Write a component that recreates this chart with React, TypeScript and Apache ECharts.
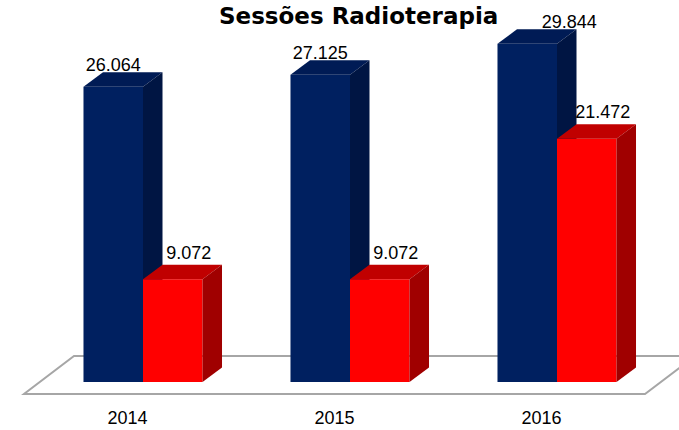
import React, { useEffect, useRef } from 'react';
import * as echarts from 'echarts';

// ---- data ----
const years = ['2014', '2015', '2016'];
const blueValues = [26064, 27125, 29844];
const redValues = [9072, 9072, 21472];
const titleText = 'Sessões Radioterapia';
const yMax = 30000;

// ---- layout / style (kept apart from data) ----
const FLOOR_DX = 50;
const FLOOR_DY = -38;
const FRONT_DX = 15.5;
const FRONT_DY = -12;
const BAR_DX = 19.5;
const BAR_DY = -14.5;
const BAR_W_FRAC = 0.2875;
const blueLabelNudge = [0, 0, 42];
const redLabelShift = 16;

const palette = {
  blue: { front: '#002060', top: '#001b55', side: '#001543' },
  red: { front: '#ff0000', top: '#c00000', side: '#a00000' },
};

const fmt = (v: number) => String(v).replace(/\B(?=(\d{3})+(?!\d))/g, '.');

function barRenderer(kind: 'blue' | 'red') {
  return (params: any, api: any) => {
    const idx = api.value(0);
    const val = api.value(1);
    const base = api.coord([idx, 0]);
    const top = api.coord([idx, val]);
    const band = api.size([1, 0])[0];
    const w = band * BAR_W_FRAC;
    const x0 = kind === 'blue' ? base[0] + FRONT_DX - w : base[0] + FRONT_DX;
    const x1 = x0 + w;
    const yb = base[1] + FRONT_DY;
    const yt = top[1] + FRONT_DY;
    const c = palette[kind];
    const labelX =
      kind === 'blue' ? (x0 + x1) / 2 + blueLabelNudge[idx] : (x0 + x1) / 2 + redLabelShift;
    const labelY = kind === 'blue' ? yt + BAR_DY - 7 : yt + BAR_DY - 12;
    return {
      type: 'group',
      children: [
        {
          type: 'rect',
          shape: { x: x0, y: yt, width: w, height: yb - yt },
          style: { fill: c.front },
        },
        {
          type: 'polygon',
          shape: {
            points: [
              [x0, yt],
              [x1, yt],
              [x1 + BAR_DX, yt + BAR_DY],
              [x0 + BAR_DX, yt + BAR_DY],
            ],
          },
          style: { fill: c.top },
        },
        {
          type: 'polygon',
          shape: {
            points: [
              [x1, yt],
              [x1 + BAR_DX, yt + BAR_DY],
              [x1 + BAR_DX, yb + BAR_DY],
              [x1, yb],
            ],
          },
          style: { fill: c.side },
        },
        {
          type: 'text',
          x: labelX,
          y: labelY,
          style: {
            text: fmt(val),
            fill: '#000',
            fontSize: 18,
            fontFamily: 'Liberation Sans',
            align: 'center',
            verticalAlign: 'middle',
          },
        },
      ],
    };
  };
}

export default function App() {
  const ref = useRef<HTMLDivElement>(null);
  useEffect(() => {
    if (!ref.current) return;
    const chart = echarts.init(ref.current, null, { renderer: 'svg' });
    chart.setOption({
      animation: false,
      backgroundColor: '#fff',
      title: {
        text: titleText,
        left: 214,
        top: -1,
        textStyle: {
          fontFamily: 'DejaVu Sans',
          fontWeight: 'bold',
          fontSize: 23,
          color: '#000',
        },
      },
      grid: { left: 24, right: 34, top: 54.1, bottom: 36 },
      xAxis: {
        type: 'category',
        data: years,
        axisLine: { show: false },
        axisTick: { show: false },
        axisLabel: {
          color: '#000',
          fontSize: 18,
          fontFamily: 'Liberation Sans',
          margin: 15,
        },
      },
      yAxis: {
        type: 'value',
        min: 0,
        max: yMax,
        show: false,
        splitLine: { show: false },
      },
      series: [
        {
          type: 'custom',
          z: 1,
          data: [[0, 0]],
          renderItem: (params: any) => {
            const cs = params.coordSys;
            const yb = cs.y + cs.height;
            const xl = cs.x;
            const xr = cs.x + cs.width;
            return {
              type: 'polygon',
              shape: {
                points: [
                  [xl, yb],
                  [xr, yb],
                  [xr + FLOOR_DX, yb + FLOOR_DY],
                  [xl + FLOOR_DX, yb + FLOOR_DY],
                ],
              },
              style: { fill: '#fff', stroke: '#a6a6a6', lineWidth: 2 },
            };
          },
        },
        {
          type: 'custom',
          z: 2,
          data: blueValues.map((v, i) => [i, v]),
          renderItem: barRenderer('blue'),
        },
        {
          type: 'custom',
          z: 3,
          data: redValues.map((v, i) => [i, v]),
          renderItem: barRenderer('red'),
        },
      ],
    });
    return () => chart.dispose();
  }, []);
  return (
    <div
      ref={ref}
      style={{ position: 'fixed', left: 0, top: 0, width: 679, height: 430 }}
    />
  );
}
